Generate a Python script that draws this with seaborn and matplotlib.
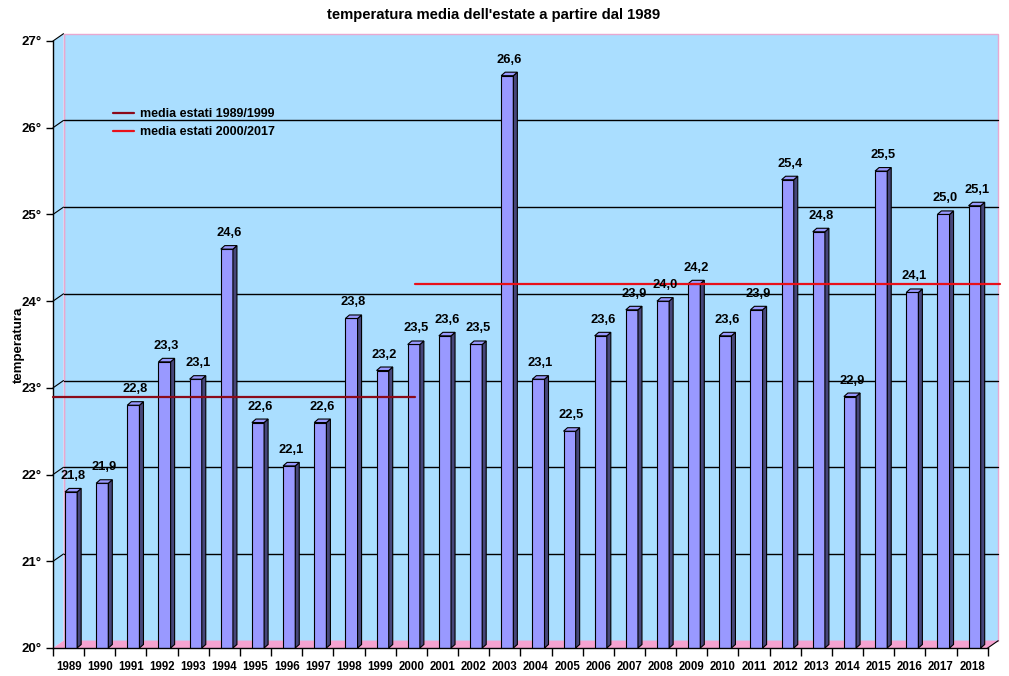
import numpy as np
import matplotlib
matplotlib.use("Agg")
import matplotlib.pyplot as plt
import seaborn as sns
from matplotlib.patches import Polygon, Rectangle

# ---------------- data ----------------
years = [str(y) for y in range(1989, 2019)]
temps = [21.8, 21.9, 22.8, 23.3, 23.1, 24.6, 22.6, 22.1, 22.6, 23.8,
         23.2, 23.5, 23.6, 23.5, 26.6, 23.1, 22.5, 23.6, 23.9, 24.0,
         24.2, 23.6, 23.9, 25.4, 24.8, 22.9, 25.5, 24.1, 25.0, 25.1]
y_ticks = [20, 21, 22, 23, 24, 25, 26, 27]
mean_labels = ["media estati 1989/1999", "media estati 2000/2017"]
mean_values = [22.9, 24.2]
title = "temperatura media dell'estate a partire dal 1989"
ylabel = "temperatura"

# ---------------- style ----------------
sns.set_style("white")
plt.rcParams["font.family"] = ["Liberation Sans", "DejaVu Sans"]
plt.rcParams["font.weight"] = "bold"
for k in ("text.color", "axes.labelcolor", "xtick.color", "ytick.color"):
    plt.rcParams[k] = "black"

WALL = "#AADEFF"
FLOOR = "#F5A3D0"
WALL_EDGE = "#E8A8D0"
BAR = "#9999FF"
BAR_SIDE = "#46467A"
C1 = "#8B0A1A"
C2 = "#E8101A"

W, H = 1009, 676
fig = plt.figure(figsize=(W / 100, H / 100), dpi=100)
L, R, B, T = 53.0, 987.7, 648.0, 41.0
ax = fig.add_axes([L / W, 1 - B / H, (R - L) / W, (B - T) / H])
ax.patch.set_visible(False)

n = len(years)
ux = (R - L) / n          # px per category
uy = (B - T) / 7.0        # px per degree
WX, WY = 10.5, 7.3        # wall depth in px
fx, fy = WX / (R - L), WY / (B - T)
SX, SY = 4.0, 3.5         # bar depth in px
dxd, dyd = SX / ux, SY / uy

sns.barplot(x=years, y=temps, color=BAR, saturation=1, width=0.39,
            edgecolor="black", linewidth=0.8, ax=ax)
ax.set_xlim(-0.5, n - 0.5)
ax.set_ylim(20, 27)

bars = list(ax.patches)
shift = 2.5 / ux
for p, v in zip(bars, temps):
    p.set_x(p.get_x() + shift)
    p.set_zorder(3)
    x0 = p.get_x()
    x1 = x0 + p.get_width()
    side = Polygon([(x1, 20), (x1 + dxd, 20 + dyd), (x1 + dxd, v + dyd), (x1, v)],
                   closed=True, facecolor=BAR_SIDE, edgecolor="black", lw=0.8,
                   zorder=3)
    top = Polygon([(x0, v), (x0 + dxd, v + dyd), (x1 + dxd, v + dyd), (x1, v)],
                  closed=True, facecolor=BAR, edgecolor="black", lw=0.8, zorder=3)
    ax.add_patch(side)
    ax.add_patch(top)
    cx = x0 + p.get_width() / 2 + dxd / 2
    ax.text(cx, v + 16 / uy, f"{v:.1f}".replace(".", ","), ha="center",
            va="center", fontsize=9.3, fontweight="bold", zorder=7)

# ---------------- 3D walls ----------------
back = Rectangle((fx, fy), 1, 1, transform=ax.transAxes, facecolor=WALL,
                 edgecolor=WALL_EDGE, lw=1, zorder=0, clip_on=False)
left = Polygon([(0, 0), (fx, fy), (fx, 1 + fy), (0, 1)], closed=True,
               transform=ax.transAxes, facecolor=WALL, edgecolor="none",
               zorder=0.2, clip_on=False)
floor = Polygon([(0, 0), (1, 0), (1 + fx, fy), (fx, fy)], closed=True,
                transform=ax.transAxes, facecolor=FLOOR, edgecolor="none",
                zorder=0.3, clip_on=False)
for patch in (back, left, floor):
    ax.add_patch(patch)
ax.plot([fx, fx], [fy, 1 + fy], transform=ax.transAxes, color=WALL_EDGE,
        lw=1, zorder=0.4, clip_on=False)

for v in y_ticks:
    ya = (v - 20) / 7
    if 20 < v < 27:
        ax.plot([fx, 1 + fx], [ya + fy, ya + fy], transform=ax.transAxes,
                color="black", lw=1, zorder=1, clip_on=False)
    if v > 20:
        ax.plot([0, fx], [ya, ya + fy], transform=ax.transAxes, color="black",
                lw=0.8, zorder=1, clip_on=False)
ax.plot([1, 1 + fx], [0, fy], transform=ax.transAxes, color="black", lw=0.8,
        zorder=1, clip_on=False)

# ---------------- mean lines ----------------
split = -0.5 + (415 - L) / ux
right_end = -0.5 + (1000 - L) / ux
l1, = ax.plot([-0.5, split], [mean_values[0]] * 2, color=C1, lw=1.6, zorder=6,
              clip_on=False)
l2, = ax.plot([split, right_end], [mean_values[1]] * 2, color=C2, lw=1.6,
              zorder=6, clip_on=False)
ax.legend(handles=[l1, l2], labels=mean_labels, loc="upper left",
          bbox_to_anchor=(113 / W, 1 - 108 / H), bbox_transform=fig.transFigure,
          frameon=False, handlelength=1.7, handletextpad=0.45,
          labelspacing=0.5, borderpad=0, borderaxespad=0,
          prop={"weight": "bold", "size": 9})

# ---------------- axes ----------------
for s in ("top", "right"):
    ax.spines[s].set_visible(False)
for s in ("left", "bottom"):
    ax.spines[s].set_color("black")
    ax.spines[s].set_linewidth(1)
    ax.spines[s].set_zorder(5)

ax.set_yticks(y_ticks)
ax.set_yticklabels([f"{t}°" for t in y_ticks])
ax.tick_params(axis="y", length=5, width=1, pad=3, labelsize=9.5, colors="black",
               left=True)
ax.set_xticks(range(n))
ax.set_xticklabels(years)
ax.set_xticks(np.arange(-0.5, n, 1), minor=True)
ax.tick_params(axis="x", which="major", length=0, pad=9, labelsize=8.3,
               colors="black")
ax.tick_params(axis="x", which="minor", length=6, width=1, direction="out",
               bottom=True, color="black")
ax.set_xlabel("")
ax.set_ylabel(ylabel, fontsize=9.5, fontweight="bold", labelpad=-2, color="black")

fig.text(494 / W, 1 - 15 / H, title, ha="center", va="center", fontsize=10.7,
         fontweight="bold", color="black")

fig.savefig("out.png", dpi=100, facecolor="white")
